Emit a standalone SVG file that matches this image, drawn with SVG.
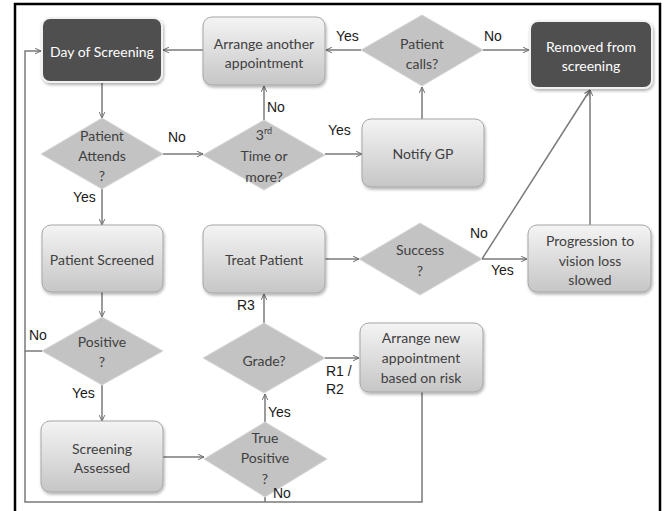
<svg xmlns="http://www.w3.org/2000/svg" width="668" height="511" viewBox="0 0 668 511">
<defs>
<linearGradient id="gbox" x1="0" y1="0" x2="0" y2="1">
<stop offset="0" stop-color="#f4f4f4"/>
<stop offset="1" stop-color="#c6c6c6"/>
</linearGradient>
<filter id="sh" x="-10%" y="-10%" width="125%" height="130%">
<feDropShadow dx="1" dy="2" stdDeviation="1.5" flood-color="#000" flood-opacity="0.3"/>
</filter>
<marker id="ar" viewBox="0 0 10 10" refX="9.5" refY="5" markerWidth="7" markerHeight="7" orient="auto" markerUnits="userSpaceOnUse">
<path d="M1,1 L9.5,5 L1,9" fill="none" stroke="#6e6e6e" stroke-width="1.4"/>
</marker>
<style>
.box{fill:url(#gbox);stroke:#a6a6a6;stroke-width:1;filter:url(#sh)}
.dark{fill:#505050;stroke:#f2f2f2;stroke-width:2;filter:url(#sh)}
.dia{fill:#c3c3c3;stroke:#d8d8d8;stroke-width:1}
.t{font-family:Lato,"Open Sans",sans-serif;font-size:14px;fill:#404040;text-anchor:middle;dominant-baseline:central}
.tw{font-family:Lato,"Open Sans",sans-serif;font-size:14px;fill:#ffffff;text-anchor:middle;dominant-baseline:central}
.lb{font-family:"Liberation Sans",Arial,sans-serif;font-size:14px;fill:#1a1a1a;dominant-baseline:central}
.c{fill:none;stroke:#7a7a7a;stroke-width:1.5}
.ca{fill:none;stroke:#7a7a7a;stroke-width:1.5;marker-end:url(#ar)}
</style>
</defs>
<rect x="0" y="0" width="668" height="511" fill="#ffffff"/>
<polyline points="15,511 15,4 660,4 660,511" fill="none" stroke="#000" stroke-width="2.5"/>

<g id="connectors">
<line class="ca" x1="102" y1="82" x2="102" y2="118"/>
<line class="ca" x1="163" y1="154" x2="203" y2="154"/>
<line class="ca" x1="264" y1="120" x2="264" y2="86"/>
<line class="ca" x1="325" y1="154" x2="362" y2="154"/>
<line class="ca" x1="422" y1="119" x2="422" y2="87"/>
<line class="ca" x1="361" y1="50" x2="326" y2="50"/>
<line class="ca" x1="483" y1="50" x2="529" y2="50"/>
<line class="ca" x1="203" y1="50" x2="163" y2="50"/>
<line class="ca" x1="102" y1="188" x2="102" y2="225"/>
<line class="ca" x1="102" y1="292" x2="102" y2="317"/>
<polyline class="ca" points="42,351 25,351 25,51 41,51"/>
<line class="ca" x1="102" y1="385" x2="102" y2="421"/>
<line class="ca" x1="163" y1="457" x2="204" y2="457"/>
<line class="ca" x1="265" y1="422" x2="265" y2="394"/>
<line class="ca" x1="264" y1="323" x2="264" y2="294"/>
<line class="ca" x1="325" y1="358" x2="359" y2="358"/>
<line class="ca" x1="325" y1="259" x2="359" y2="259"/>
<line class="ca" x1="482" y1="259" x2="527" y2="259"/>
<line class="ca" x1="482" y1="259" x2="590" y2="90"/>
<line class="ca" x1="590" y1="225" x2="590" y2="90"/>
<line class="c" x1="265" y1="497" x2="265" y2="502"/>
<polyline class="c" points="25,351 25,502 422,502 422,392"/>
</g>

<g id="day-of-screening">
<rect class="dark" x="42" y="18" width="120" height="64" rx="8"/>
<text class="tw" x="102" y="51">Day of Screening</text>
</g>
<g id="arrange-another">
<rect class="box" x="203" y="17" width="122" height="68" rx="9"/>
<text class="t" x="264" y="43">Arrange another</text>
<text class="t" x="264" y="62">appointment</text>
</g>
<g id="patient-calls">
<polygon class="dia" points="422,15 483,50 422,86 361,50"/>
<text class="t" x="422" y="43">Patient</text>
<text class="t" x="422" y="63">calls?</text>
</g>
<g id="removed">
<rect class="dark" x="530" y="21" width="122" height="67" rx="8"/>
<text class="tw" x="591" y="46">Removed from</text>
<text class="tw" x="591" y="65">screening</text>
</g>
<g id="patient-attends">
<polygon class="dia" points="102,118 163,154 102,189 41,154"/>
<text class="t" x="102" y="135">Patient</text>
<text class="t" x="102" y="155">Attends</text>
<text class="t" x="102" y="175">?</text>
</g>
<g id="third-time">
<polygon class="dia" points="264,120 325,155 264,190 203,155"/>
<text class="t" x="264" y="134">3<tspan font-size="9" dy="-4">rd</tspan></text>
<text class="t" x="264" y="155">Time or</text>
<text class="t" x="264" y="176">more?</text>
</g>
<g id="notify-gp">
<rect class="box" x="362" y="119" width="122" height="68" rx="9"/>
<text class="t" x="423" y="153">Notify GP</text>
</g>
<g id="patient-screened">
<rect class="box" x="42" y="225" width="121" height="67" rx="9"/>
<text class="t" x="102" y="259">Patient Screened</text>
</g>
<g id="treat-patient">
<rect class="box" x="203" y="225" width="122" height="68" rx="9"/>
<text class="t" x="264" y="259">Treat Patient</text>
</g>
<g id="success">
<polygon class="dia" points="420,223 482,259 420,295 359,259"/>
<text class="t" x="420" y="249">Success</text>
<text class="t" x="420" y="270">?</text>
</g>
<g id="progression">
<rect class="box" x="528" y="225" width="123" height="67" rx="9"/>
<text class="t" x="590" y="240">Progression to</text>
<text class="t" x="590" y="260">vision loss</text>
<text class="t" x="590" y="279">slowed</text>
</g>
<g id="positive">
<polygon class="dia" points="102,317 163,351 102,385 42,351"/>
<text class="t" x="102" y="341">Positive</text>
<text class="t" x="102" y="361">?</text>
</g>
<g id="grade">
<polygon class="dia" points="264,323 325,358 264,393 203,358"/>
<text class="t" x="264" y="360">Grade?</text>
</g>
<g id="arrange-new">
<rect class="box" x="360" y="323" width="123" height="69" rx="9"/>
<text class="t" x="421" y="337">Arrange new</text>
<text class="t" x="421" y="357">appointment</text>
<text class="t" x="421" y="377">based on risk</text>
</g>
<g id="screening-assessed">
<rect class="box" x="41" y="421" width="122" height="71" rx="9"/>
<text class="t" x="102" y="448">Screening</text>
<text class="t" x="102" y="467">Assessed</text>
</g>
<g id="true-positive">
<polygon class="dia" points="265,422 327,459 265,497 204,459"/>
<text class="t" x="265" y="437">True</text>
<text class="t" x="265" y="457">Positive</text>
<text class="t" x="265" y="478">?</text>
</g>

<g id="labels">
<text class="lb" x="168" y="137">No</text>
<text class="lb" x="267" y="107">No</text>
<text class="lb" x="328" y="130">Yes</text>
<text class="lb" x="336" y="36">Yes</text>
<text class="lb" x="484" y="36">No</text>
<text class="lb" x="73" y="197">Yes</text>
<text class="lb" x="237" y="305">R3</text>
<text class="lb" x="29" y="335">No</text>
<text class="lb" x="72" y="393">Yes</text>
<text class="lb" x="268" y="412">Yes</text>
<text class="lb" x="273" y="493">No</text>
<text class="lb" x="326" y="371">R1 /</text>
<text class="lb" x="326" y="389">R2</text>
<text class="lb" x="470" y="233">No</text>
<text class="lb" x="491" y="270">Yes</text>
</g>
</svg>
